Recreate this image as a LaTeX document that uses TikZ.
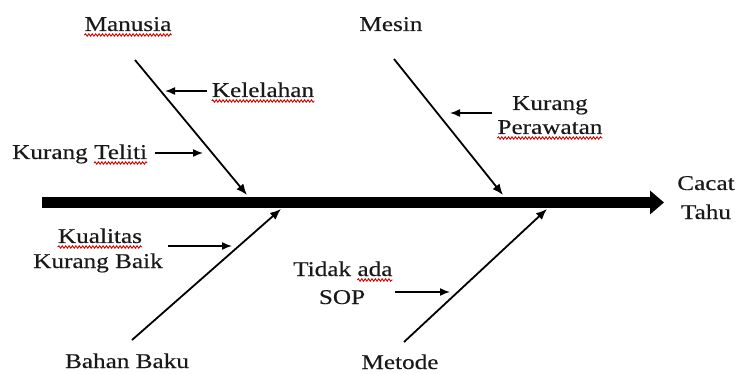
\documentclass[tikz,border=0pt]{standalone}
\usepackage{fontspec}
\setmainfont{Liberation Serif}[FakeStretch=1.2,FakeBold=0.3]
\usetikzlibrary{arrows.meta,decorations.pathmorphing}
\tikzset{
  lbl/.style={inner sep=0pt, text=black!90, font=\fontsize{21}{26}\selectfont, anchor=base},
  spine/.style={line width=11pt, -{Triangle[length=14pt,width=23pt]}},
  bone/.style={line width=1.8pt, -{Latex[length=11pt,width=9pt]}},
  cause/.style={line width=1.5pt, -{Latex[length=10pt,width=8pt]}},
  squig/.style={draw=red!85!black, line width=0.9pt, decorate, decoration={snake, amplitude=1.2pt, segment length=3.4pt}}
}
\newcommand\sq[1]{\draw[squig] ([yshift=-4pt]#1.base west) -- ([yshift=-4pt]#1.base east);}
\begin{document}
\begin{tikzpicture}[x=1pt,y=-1pt]
\useasboundingbox (0,0) rectangle (744,374);
% spine
\coordinate (sp0) at (42,202.5);
\coordinate (sp1) at (664,202.5);
\draw[spine] (sp0) -- (sp1);
\node[lbl] (eff1) at (706,190) {Cacat};
\node[lbl] (eff2) at (706,219) {Tahu};
% Manusia
\node[lbl] (manusia) at (128,31) {Manusia};
\sq{manusia}
\coordinate (m0) at (135,60);
\coordinate (m1) at (247,195);
\draw[bone] (m0) -- (m1);
\node[lbl] (kel) at (263,97) {Kelelahan};
\sq{kel}
\coordinate (kels) at (207,91);
\coordinate (kelp) at (165,91);
\draw[cause] (kels) -- (kelp);
\node[lbl, anchor=base west] (kt1) at (12,159) {Kurang};
\node[lbl, anchor=base west] (kt2) at ([xshift=6pt]kt1.base east) {Teliti};
\sq{kt2}
\coordinate (kts) at (155,153);
\coordinate (ktp) at (203,153);
\draw[cause] (kts) -- (ktp);
% Mesin
\node[lbl] (mesin) at (391,31) {Mesin};
\coordinate (s0) at (394,59);
\coordinate (s1) at (503,195);
\draw[bone] (s0) -- (s1);
\node[lbl] (kp1) at (550,110) {Kurang};
\node[lbl] (kp2) at (550,134) {Perawatan};
\sq{kp2}
\coordinate (kps) at (492,113);
\coordinate (kpp) at (450,113);
\draw[cause] (kps) -- (kpp);
% Bahan Baku
\node[lbl] (bahan) at (127,368) {Bahan Baku};
\coordinate (b0) at (132,340);
\coordinate (b1) at (281,209);
\draw[bone] (b0) -- (b1);
\node[lbl] (kual1) at (100,243) {Kualitas};
\sq{kual1}
\node[lbl] (kual2) at (98,268) {Kurang Baik};
\coordinate (kuals) at (168,246);
\coordinate (kualp) at (232,246);
\draw[cause] (kuals) -- (kualp);
% Metode
\node[lbl] (metode) at (400,369) {Metode};
\coordinate (t0) at (404,342);
\coordinate (t1) at (547,209);
\draw[bone] (t0) -- (t1);
\node[lbl, anchor=base west] (sop1) at (293,276) {Tidak};
\node[lbl, anchor=base west] (sop2) at ([xshift=6pt]sop1.base east) {ada};
\sq{sop2}
\node[lbl] (sop3) at (342,304) {SOP};
\coordinate (sops) at (395,292);
\coordinate (sopp) at (450,292);
\draw[cause] (sops) -- (sopp);
\end{tikzpicture}
\end{document}
